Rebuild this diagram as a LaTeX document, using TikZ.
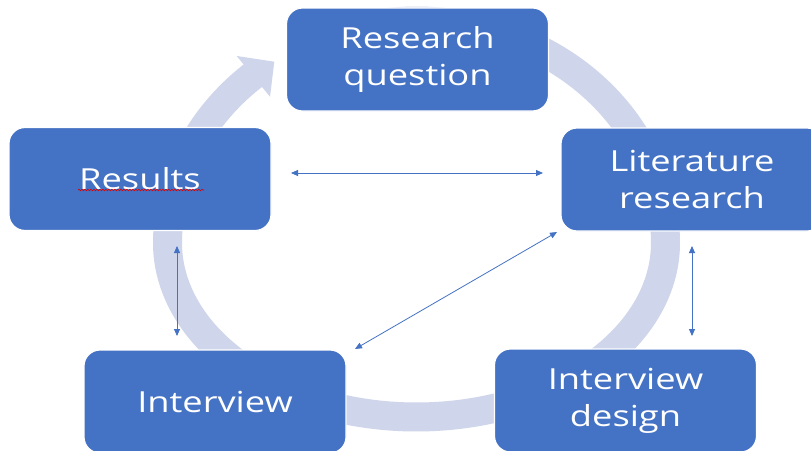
\documentclass[tikz,border=0pt]{standalone}
\usepackage{fontspec}
\newfontfamily\boxfont[FakeStretch=1.25]{Open Sans}
\usetikzlibrary{arrows.meta,decorations.pathmorphing}
\definecolor{boxblue}{HTML}{4472C4}
\definecolor{ringcol}{HTML}{CFD5EA}
\tikzset{
  stagebox/.style={rounded corners=16pt, fill=boxblue, draw=white, line width=1.2pt,
    minimum width=262pt, minimum height=103pt, text=white, align=center, inner sep=0pt,
    font=\boxfont\fontsize{29}{37}\selectfont},
  ring/.style={ringcol, line width=29pt},
  link/.style={boxblue, line width=0.8pt, {Triangle[width=6pt,length=7pt]}-{Triangle[width=6pt,length=7pt]}},
  squiggle/.style={red!85!black, line width=0.6pt, decorate, decoration={snake, amplitude=0.8pt, segment length=3pt}}
}
\begin{document}
\begin{tikzpicture}[x=1pt,y=-1pt]
\useasboundingbox (0,0) rectangle (811,450);
\fill[white] (0,0) rectangle (811,450);
\clip (0,0) rectangle (811,450);
% cycle ring
\draw[ring] plot[domain=-100:230, samples=240] ({416.5+249*cos(\x)},{243+ifthenelse(sin(\x)<0,222,174)*sin(\x)});
\fill[ringcol] (236.7,56) -- (274.3,61.7) -- (270,96.7) -- cycle;
% boxes
\node[stagebox] (rq) at (417.5,59.5) {Research\\question};
\node[stagebox] (lit) at (692,179.5) {Literature\\research};
\node[stagebox] (res) at (140,179) {Results};
\node[stagebox] (int) at (215,401.5) {Interview};
\node[stagebox] (intd) at (625.5,400.5) {Interview\\design};
% spell-check underline
\coordinate (sqa) at (78,190);
\coordinate (sqb) at (204,190);
\draw[squiggle] (sqa) -- (sqb);
% connector end points
\coordinate (h1) at (291,173);
\coordinate (h2) at (543,173);
\coordinate (v1) at (177,246);
\coordinate (v2) at (177,336);
\coordinate (d1) at (355,349);
\coordinate (d2) at (557,232);
\coordinate (w1) at (692,246);
\coordinate (w2) at (692,336);
\draw[link] (h1) -- (h2);
\draw[link] (v1) -- (v2);
\draw[link] (d1) -- (d2);
\draw[link] (w1) -- (w2);
\end{tikzpicture}
\end{document}
